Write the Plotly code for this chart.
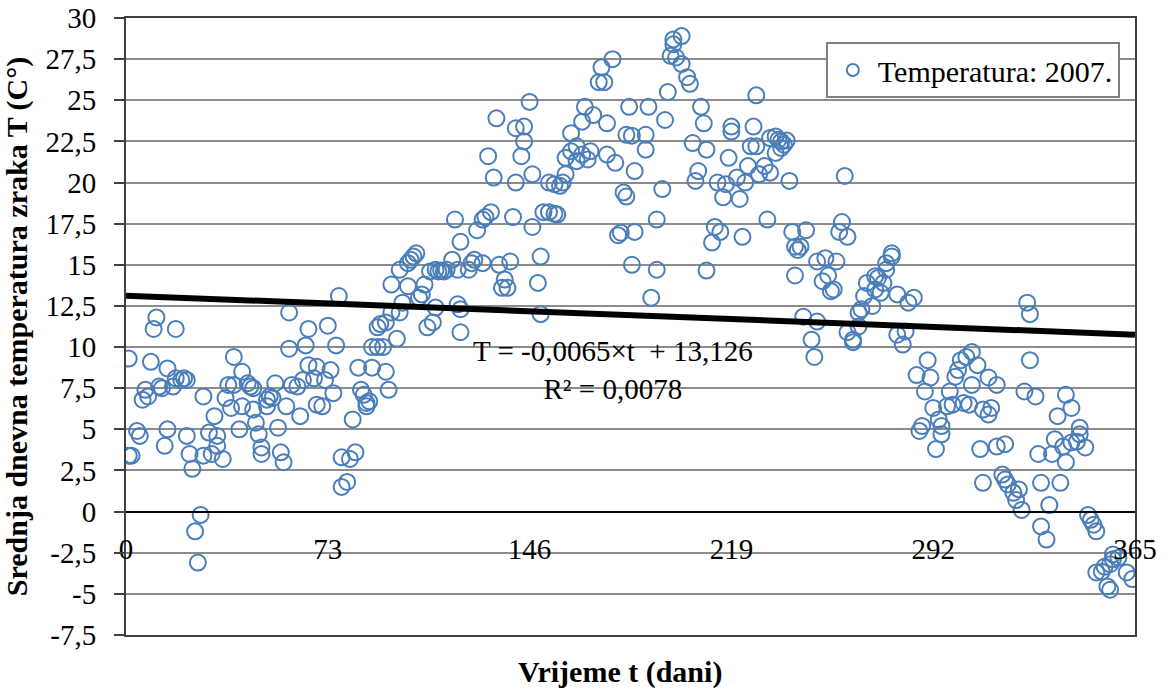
import plotly.graph_objects as go

# values (day of year, mean daily air temperature)
days = [1, 1, 2, 4, 5, 6, 7, 8, 9, 10, 11, 12, 13, 14, 15, 15, 17, 18, 18, 20, 21, 22, 22, 23, 24,
        25, 26, 27, 28, 28, 30, 31, 32, 33, 33, 35, 36, 37, 38, 39, 39, 41, 42, 42, 44, 45, 46, 46,
        47, 48, 49, 49, 51, 52, 53, 51, 54, 55, 56, 57, 58, 59, 59, 60, 62, 63, 64, 65, 66, 66, 68,
        69, 69, 71, 72, 73, 74, 75, 76, 77, 78, 78, 80, 81, 82, 83, 84, 85, 86, 87, 87, 88, 89, 89,
        91, 91, 92, 93, 94, 94, 95, 96, 96, 98, 99, 99, 100, 102, 102, 103, 104, 105, 106, 107, 108,
        109, 110, 111, 112, 112, 113, 114, 115, 116, 118, 119, 120, 120, 121, 121, 121, 124, 125,
        126, 127, 129, 129, 130, 131, 132, 133, 134, 135, 136, 137, 138, 139, 140, 141, 141, 143,
        144, 144, 146, 147, 147, 149, 150, 150, 151, 153, 153, 155, 155, 156, 157, 158, 159, 159,
        161, 161, 163, 163, 165, 165, 166, 167, 168, 169, 171, 172, 173, 174, 174, 176, 177, 178,
        179, 180, 181, 181, 182, 183, 183, 184, 184, 188, 188, 189, 190, 192, 192, 194, 195, 196,
        197, 198, 198, 199, 201, 201, 203, 204, 205, 206, 207, 208, 209, 210, 210, 212, 213, 214,
        215, 216, 217, 218, 219, 219, 221, 222, 223, 224, 225, 226, 227, 228, 228, 229, 231, 232,
        233, 233, 235, 235, 236, 237, 237, 238, 239, 240, 241, 242, 242, 243, 244, 245, 246, 248,
        249, 250, 250, 252, 253, 254, 255, 256, 257, 258, 259, 260, 261, 261, 263, 263, 265, 265,
        266, 267, 268, 270, 271, 271, 272, 273, 274, 275, 275, 277, 277, 279, 279, 281, 282, 283,
        285, 286, 287, 288, 289, 290, 291, 292, 293, 294, 295, 295, 297, 298, 299, 300, 301, 302,
        303, 304, 305, 306, 306, 308, 309, 310, 310, 312, 312, 313, 315, 315, 317, 318, 318, 319,
        321, 322, 323, 324, 325, 326, 327, 327, 329, 330, 331, 331, 333, 334, 335, 336, 337, 338,
        339, 340, 340, 342, 342, 344, 345, 345, 347, 348, 349, 350, 351, 351, 353, 354, 355, 356,
        356, 357, 357, 359, 362, 364]

temps = [9.3, 3.4, 3.4, 4.9, 4.6, 6.8, 7.4, 7.0, 9.1, 11.1, 11.8, 7.6, 7.5, 4.0, 5.0, 8.7, 7.6,
         11.1, 8.1, 8.0, 8.1, 8.0, 4.6, 3.5, 2.6, -1.2, -3.1, -0.2, 3.4, 7.0, 4.8, 3.5, 5.8, 4.0,
         4.6, 3.2, 6.9, 7.7, 6.3, 9.4, 7.7, 5.0, 6.4, 8.5, 7.8, 7.6, 7.5, 6.2, 5.4, 4.7, 3.9, 3.5,
         6.8, 7.0, 6.9, 6.4, 7.8, 5.1, 3.6, 3.0, 6.4, 9.9, 12.1, 7.7, 7.6, 5.8, 8.0, 10.1, 11.1,
         8.9, 8.1, 8.8, 6.5, 6.4, 8.0, 11.3, 8.6, 7.2, 10.1, 13.1, 3.3, 1.5, 1.8, 3.2, 5.6, 3.6,
         8.75, 7.4, 7.1, 6.6, 6.4, 6.7, 8.75, 10.0, 10.0, 11.2, 11.4, 10.0, 11.5, 8.5, 7.4, 12.1,
         13.8, 10.5, 12.1, 14.7, 12.7, 15.1, 13.7, 15.3, 15.5, 15.7, 13.0, 13.2, 13.8, 11.2, 14.6,
         11.5, 12.4, 14.7, 14.6, 14.65, 14.6, 14.7, 15.3, 17.75, 14.7, 12.6, 16.4, 12.3, 10.9,
         14.7, 15.1, 15.3, 17.1, 15.1, 17.75, 17.9, 21.6, 18.2, 20.3, 23.9, 15.0, 13.6, 14.1, 13.6,
         15.2, 17.9, 20.0, 23.3, 21.6, 23.4, 22.5, 24.9, 20.5, 17.3, 13.9, 12.0, 15.5, 18.2, 18.2,
         20.0, 18.1, 19.9, 18.05, 19.8, 20.0, 20.5, 21.5, 21.9, 23.0, 22.2, 21.3, 21.7, 23.7, 24.6,
         21.4, 21.9, 24.1, 26.1, 27.0, 26.1, 23.6, 21.7, 27.5, 21.2, 16.8, 16.95, 19.4, 19.15,
         22.9, 24.6, 22.85, 15.0, 20.7, 17.0, 22.0, 22.9, 24.6, 13.0, 14.7, 17.75, 19.6, 23.8,
         25.5, 27.7, 28.7, 28.4, 27.6, 28.9, 27.2, 26.4, 26.0, 22.4, 20.1, 20.7, 24.6, 23.6, 22.0,
         14.65, 16.35, 17.3, 20.0, 17.0, 19.1, 19.9, 21.5, 23.4, 23.1, 20.3, 19.0, 16.7, 20.0,
         21.0, 22.2, 23.4, 22.2, 25.3, 20.5, 21.0, 17.75, 20.6, 22.7, 22.8, 21.8, 22.6, 22.5,
         22.1, 22.3, 22.55, 20.1, 17.0, 16.1, 14.35, 15.9, 16.1, 11.85, 17.1, 10.45, 9.4, 11.55,
         15.2, 14.0, 15.4, 14.35, 13.4, 13.5, 15.2, 17.0, 17.6, 20.4, 16.7, 10.9, 10.3, 10.45,
         11.25, 12.1, 12.3, 13.1, 13.9, 12.5, 14.3, 13.5, 14.2, 13.3, 13.9, 14.7, 15.1, 15.7, 15.5,
         13.2, 10.75, 10.15, 10.95, 12.7, 13.0, 8.3, 4.9, 5.2, 7.3, 9.2, 8.15, 6.3, 3.8, 5.6, 4.7,
         5.2, 6.4, 7.3, 6.5, 8.2, 8.6, 9.2, 6.6, 9.4, 6.5, 9.7, 7.7, 8.9, 3.8, 1.75, 6.2, 5.9, 8.15,
         6.3, 7.7, 3.95, 2.25, 4.1, 1.95, 1.65, 1.15, 0.7, 1.35, 0.1, 7.3, 12.7, 12.0, 9.2, 7.0,
         3.5, 1.75, -0.9, -1.7, 0.4, 3.5, 4.4, 5.8, 1.75, 3.95, 3.0, 7.1, 6.3, 4.2, 4.25, 5.1, 4.7,
         3.9, -0.2, -0.5, -0.8, -1.2, -3.7, -3.65, -3.35, -4.55, -3.2, -4.75, -2.9, -2.6, -2.8,
         -3.7, -4.1]

# linear trend from the chart's equation
slope = -0.0065
intercept = 13.126
trend_t = [0, 365]

x_ticks = [0, 73, 146, 219, 292, 365]
y_ticks = [30, 27.5, 25, 22.5, 20, 17.5, 15, 12.5, 10, 7.5, 5, 2.5, 0, -2.5, -5, -7.5]
y_labels = [f"{v:g}".replace(".", ",") for v in y_ticks]

font = "Liberation Serif"
blue = "#4a7ebb"
frame = "#404040"

fig = go.Figure()
fig.add_trace(go.Scatter(
    x=days, y=temps, mode="markers", name="Temperatura: 2007.",
    marker=dict(symbol="circle-open", size=16, color=blue, line=dict(width=2, color=blue)),
))
fig.add_trace(go.Scatter(
    x=trend_t, y=[intercept + slope * t for t in trend_t], mode="lines",
    line=dict(color="black", width=6), showlegend=False, hoverinfo="skip",
))
# invisible trace on a second x axis that only draws the plot frame
fig.add_trace(go.Scatter(x=trend_t, y=[None, None], xaxis="x2", showlegend=False,
                         hoverinfo="skip", mode="lines"))

fig.add_annotation(text="T = -0,0065×t  + 13,126<br>R² = 0,0078", x=176, y=8.6,
                   xref="x", yref="y", showarrow=False, align="center",
                   font=dict(family=font, size=29, color="black"))
fig.add_annotation(text="<b>Vrijeme t (dani)</b>", x=0.49, y=-0.06, xref="paper", yref="paper",
                   showarrow=False, xanchor="center", yanchor="middle",
                   font=dict(family=font, size=30, color="black"))

fig.update_layout(
    width=1168, height=688,
    margin=dict(l=126, r=33, t=18, b=53),
    paper_bgcolor="white", plot_bgcolor="white",
    font=dict(family=font, size=29, color="black"),
    legend=dict(x=0.985, y=0.961, xanchor="right", yanchor="top", bgcolor="white",
                bordercolor="#7f7f7f", borderwidth=2, font=dict(family=font, size=30),
                itemsizing="constant", itemwidth=40),
    xaxis=dict(range=[0, 365], tickvals=x_ticks, anchor="free", position=0.2,
               showgrid=False, zeroline=False, showline=True, linecolor="black", linewidth=2,
               ticks="", ticklabelstandoff=12, tickfont=dict(family=font, size=29),
               automargin=False),
    xaxis2=dict(range=[0, 365], overlaying="x", anchor="y", showgrid=False, zeroline=False,
                showticklabels=False, showline=True, mirror=True, linecolor=frame,
                linewidth=2, ticks="", automargin=False),
    yaxis=dict(range=[-7.5, 30], tickvals=y_ticks, ticktext=y_labels,
               showgrid=True, gridcolor="#8c8c8c", gridwidth=1.5, zeroline=False,
               showline=True, linecolor=frame, linewidth=2, mirror=True,
               ticks="outside", ticklen=10, tickwidth=1.5, tickcolor=frame,
               ticklabelstandoff=12, tickfont=dict(family=font, size=29), automargin=False,
               title=dict(text="<b>Srednja dnevna temperatura zraka T (C°)</b>",
                          font=dict(family=font, size=30), standoff=12)),
)

# drop the default page margin so the figure sits at the window's top-left corner
fig.write_html("out.html", config={"displayModeBar": False},
               post_script="document.body.style.margin = '0';")
